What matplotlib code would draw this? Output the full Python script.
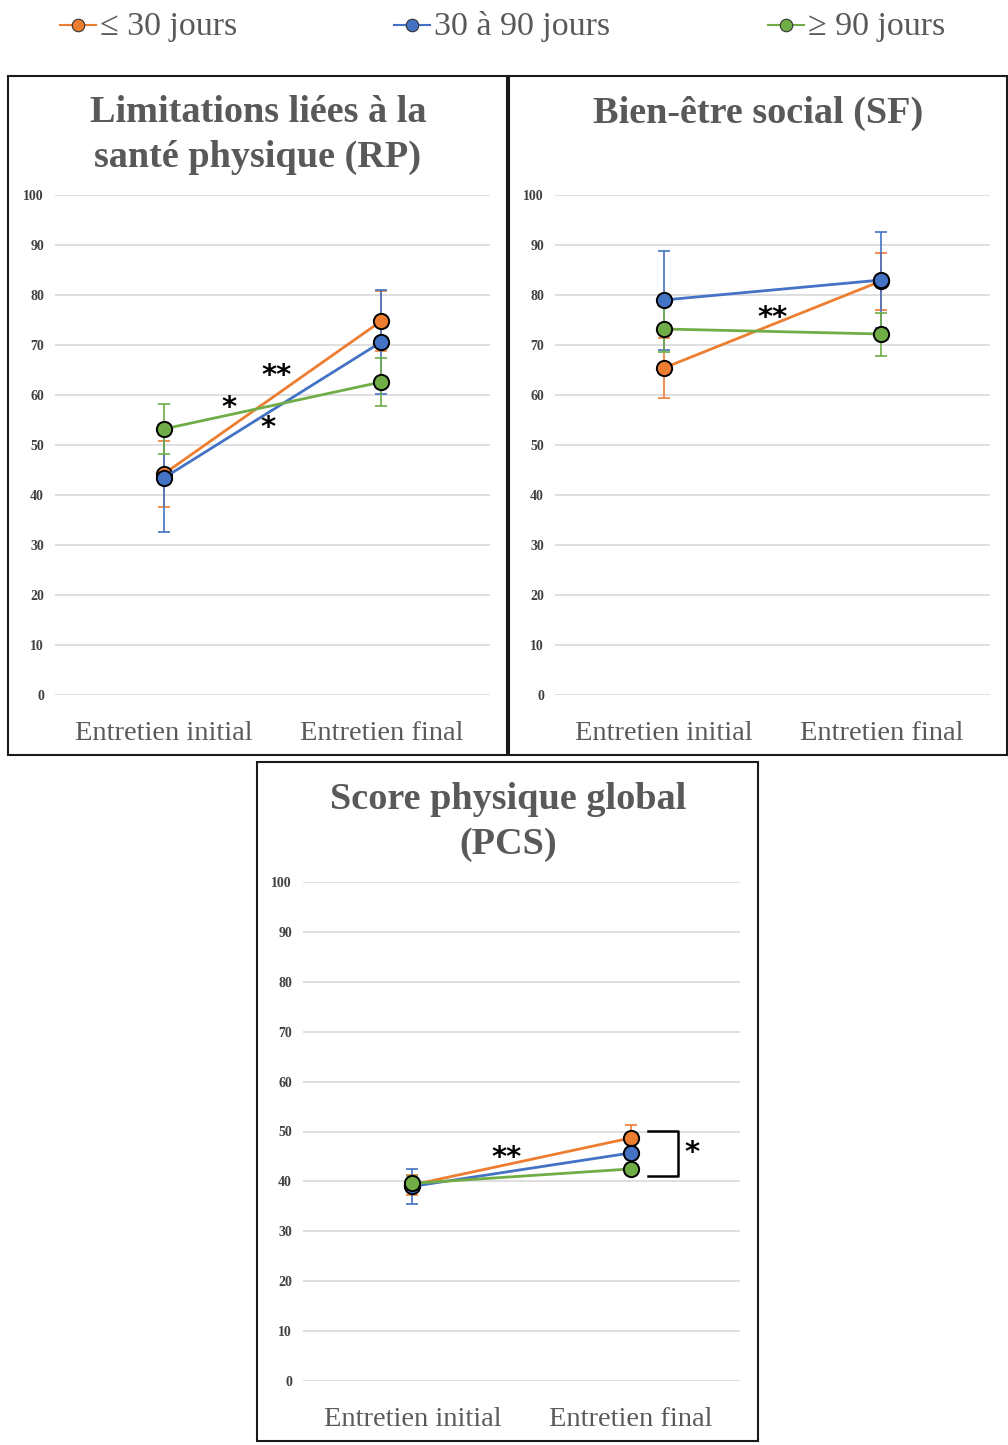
import matplotlib
matplotlib.use("Agg")
import matplotlib.pyplot as plt
from matplotlib.patches import Rectangle
from matplotlib.lines import Line2D

W, H = 1008, 1445

categories = ["Entretien initial", "Entretien final"]
series = ["\u2264 30 jours", "30 \u00e0 90 jours", "\u2265 90 jours"]
colors = ["#ED7D31", "#4472C4", "#70AD47"]
yticks = [0, 10, 20, 30, 40, 50, 60, 70, 80, 90, 100]

# Panel 1: RP
rp_vals = [[44.2, 74.8], [43.4, 70.6], [53.2, 62.6]]
rp_err = [[6.6, 6.0], [10.8, 10.4], [5.0, 4.8]]
# Panel 2: SF
sf_vals = [[65.4, 82.8], [79.0, 83.0], [73.2, 72.2]]
sf_err = [[6.0, 5.7], [9.9, 9.6], [4.6, 4.3]]
# Panel 3: PCS
pcs_vals = [[39.3, 48.7], [39.0, 45.7], [39.6, 42.5]]
pcs_err = [[2.0, 2.6], [3.5, 1.0], [1.5, 1.0]]

titles = ["Limitations li\u00e9es \u00e0 la\nsant\u00e9 physique (RP)",
          "Bien-\u00eatre social (SF)",
          "Score physique global\n(PCS)"]

serif = ["Liberation Serif", "DejaVu Serif"]
gray = "#595959"

fig = plt.figure(figsize=(W / 100, H / 100), dpi=100)

def fx(px):
    return px / W

def fy(py):
    return 1 - py / H

# boxes
boxes = [(8, 76, 507, 755), (509, 76, 1007, 755), (257, 762, 758, 1441)]
for (x0, y0, x1, y1) in boxes:
    fig.add_artist(Rectangle((fx(x0), fy(y1)), fx(x1) - fx(x0), fy(y0) - fy(y1),
                             transform=fig.transFigure, fill=False,
                             edgecolor="#1a1a1a", lw=1.5))

axes_px = [(55, 195, 490, 695), (555, 195, 990, 695), (303, 882, 740, 1381)]
data = [(rp_vals, rp_err), (sf_vals, sf_err), (pcs_vals, pcs_err)]
title_pos = [(258, 135), (758, 113), (508, 822)]

axs = []
for (x0, y0, x1, y1), (vals, errs), title, (tx, ty) in zip(axes_px, data, titles, title_pos):
    ax = fig.add_axes([fx(x0), fy(y1), fx(x1) - fx(x0), fy(y0) - fy(y1)])
    ax.set_xlim(-0.5, 1.5)
    ax.set_ylim(0, 100)
    ax.set_yticks(yticks)
    ax.set_yticklabels([str(t) for t in yticks], fontfamily=serif,
                       fontweight="bold", fontsize=10, color="#404040")
    ax.set_xticks([0, 1])
    ax.set_xticklabels(categories, fontfamily=serif, fontsize=20.5, color=gray)
    ax.tick_params(axis="both", length=0)
    ax.tick_params(axis="y", pad=8)
    ax.tick_params(axis="x", pad=19)
    for s in ax.spines.values():
        s.set_visible(False)
    ax.grid(axis="y", color="#d9d9d9", lw=1.2)
    ax.set_axisbelow(True)
    xs = list(range(len(categories)))
    for v, e, c in zip(vals, errs, colors):
        ax.errorbar(xs, v, yerr=e, fmt="none", ecolor=c, elinewidth=1.2,
                    capsize=4, capthick=1.2, zorder=2)
        ax.plot(xs, v, color=c, lw=2, marker="o", markersize=11,
                markerfacecolor=c, markeredgecolor="black", markeredgewidth=1.4,
                zorder=3)
    fig.text(fx(tx), fy(ty), title, ha="center", va="center", fontfamily=serif,
             fontweight="bold", fontsize=27.5, color=gray, linespacing=1.36)
    axs.append(ax)

star_kw = dict(ha="center", va="center", fontsize=21, fontweight="bold",
               color="black", fontfamily=["DejaVu Sans"])
ax1, ax2, ax3 = axs
ax1.text(0.52, 63.8, "**", **star_kw)
ax1.text(0.30, 57.4, "*", **star_kw)
ax1.text(0.48, 53.4, "*", **star_kw)
ax2.text(0.50, 75.4, "**", **star_kw)
ax3.text(0.43, 44.7, "**", **star_kw)
ax3.text(1.28, 45.7, "*", **star_kw)
ax3.plot([1.08, 1.215, 1.215, 1.08], [50.1, 50.1, 41.1, 41.1], color="black",
         lw=1.8, clip_on=False, zorder=4)

# legend
leg_pos = [(78, 100), (412, 434), (786, 808)]
for (mx, tx0), lab, c in zip(leg_pos, series, colors):
    fig.add_artist(Line2D([fx(mx - 18), fx(mx + 18)], [fy(25), fy(25)],
                          transform=fig.transFigure, color=c, lw=1.5))
    fig.add_artist(Line2D([fx(mx)], [fy(25)], transform=fig.transFigure,
                          marker="o", markersize=9, markerfacecolor=c,
                          markeredgecolor="#333333", markeredgewidth=0.8))
    fig.text(fx(tx0), fy(27), lab, ha="left", va="center", fontfamily=serif,
             fontsize=24.5, color=gray)

fig.savefig("out.png", dpi=100)
